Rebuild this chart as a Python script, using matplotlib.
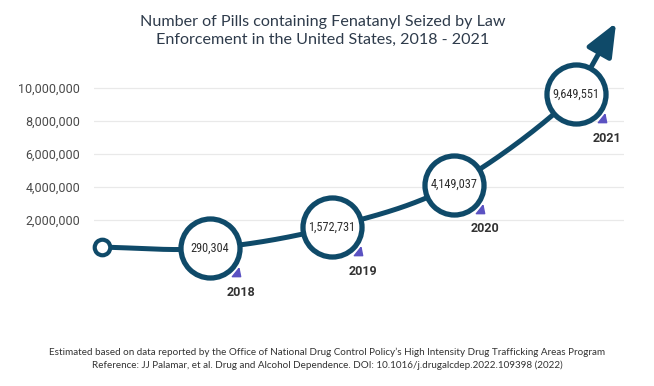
import matplotlib
matplotlib.use('Agg')
import matplotlib.pyplot as plt
import numpy as np
from matplotlib.transforms import IdentityTransform, ScaledTranslation
from matplotlib.patches import FancyArrowPatch
from matplotlib.path import Path
from matplotlib import font_manager as fm

# ---- data ----
years = [2018, 2019, 2020, 2021]
pills = [290304, 1572731, 4149037, 9649551]
value_labels = ['290,304', '1,572,731', '4,149,037', '9,649,551']
year_labels = ['2018', '2019', '2020', '2021']
yticks = [2000000, 4000000, 6000000, 8000000, 10000000]
ytick_labels = ['2,000,000', '4,000,000', '6,000,000', '8,000,000', '10,000,000']
title = ("Number of Pills containing Fenatanyl Seized by Law\n"
         "Enforcement in the United States, 2018 - 2021")
note = ("Estimated based on data reported by the Office of National Drug Control Policy\u2019s "
        "High Intensity Drug Trafficking Areas Program\n"
        "Reference: JJ Palamar, et al. Drug and Alcohol Dependence. "
        "DOI: 10.1016/j.drugalcdep.2022.109398 (2022)")

NAVY = '#0f4a69'
PURPLE = '#5b52c2'
W, H = 654, 386

# pick a condensed font if one is installed
cond_fp = None
prefs = ['Roboto Condensed', 'Liberation Sans Narrow', 'DejaVu Sans Condensed',
         'Open Sans Condensed', 'Noto Sans Condensed']
fonts = fm.fontManager.ttflist
for p in prefs:
    for f in fonts:
        n = (f.name + ' ' + f.fname.split('/')[-1]).replace('-', ' ')
        if p.replace(' ', '') in n.replace(' ', '') and 'Bold' not in f.fname \
                and 'Oblique' not in f.fname and 'Italic' not in f.fname:
            cond_fp = fm.FontProperties(fname=f.fname)
            break
    if cond_fp is not None:
        break
if cond_fp is None:
    for f in fonts:
        if f.stretch in ('condensed', 'semi-condensed', 'extra-condensed', 'ultra-condensed') \
                or (isinstance(f.stretch, (int, float)) and f.stretch < 500):
            cond_fp = fm.FontProperties(fname=f.fname)
            break

fig = plt.figure(figsize=(W / 100, H / 100), dpi=100)
fig.patch.set_facecolor('white')
ax = fig.add_axes([94 / W, 1 - 253 / H, (624 - 94) / W, (253 - 80) / H])
per_px = 2000000 / 33.0
ax.set_xlim(2017.049, 2021.393)
ax.set_ylim(0, 173 * per_px)
ax.set_autoscale_on(False)

for s in ax.spines.values():
    s.set_visible(False)
ax.set_xticks([])
ax.set_yticks(yticks)
ax.set_yticklabels(ytick_labels, fontsize=9, family='Roboto', color='#4a4a4a')
ax.tick_params(axis='y', length=0, pad=10)
ax.grid(axis='y', color='#e9e9e9', linewidth=0.9)
ax.set_axisbelow(True)

# ---- curve in display space ----
fig.canvas.draw()
pts = ax.transData.transform(np.column_stack([years, pills]))
start = pts[0] + np.array([-108.0, 1.0])
tip = pts[-1] + np.array([40.0, 71.0])
ctrl = np.vstack([start, pts, tip])


def catmull(P, n=60):
    ext = np.vstack([2 * P[0] - P[1], P, 2 * P[-1] - P[-2]])
    out = []
    for i in range(1, len(ext) - 2):
        p0, p1, p2, p3 = ext[i - 1:i + 3]
        t = np.linspace(0, 1, n)[:, None]
        seg = 0.5 * ((2 * p1) + (-p0 + p2) * t + (2 * p0 - 5 * p1 + 4 * p2 - p3) * t ** 2
                     + (-p0 + 3 * p1 - 3 * p2 + p3) * t ** 3)
        out.append(seg)
    return out


segs = catmull(ctrl)
curve = np.vstack(segs[:-1])
ax.plot(curve[:, 0], curve[:, 1], color=NAVY, lw=3.6, transform=IdentityTransform(),
        clip_on=False, zorder=3, solid_capstyle='round')

arrow = FancyArrowPatch(posA=tuple(pts[-1]), posB=tuple(tip), transform=IdentityTransform(),
                        arrowstyle='-|>,head_length=1.0,head_width=0.42',
                        mutation_scale=20, color=NAVY, lw=3.6, shrinkA=0, shrinkB=0,
                        zorder=3, clip_on=False)
ax.add_artist(arrow)

# start ring
ax.plot([start[0]], [start[1]], 'o', ms=11.2, mfc='white', mec=NAVY, mew=3.0,
        transform=IdentityTransform(), clip_on=False, zorder=4)

# purple pointer triangles
tri = Path([(0.6, 1), (-1, -1), (1, -1), (0.6, 1)])
off = ax.transData + ScaledTranslation(18.7 / 72, -17.3 / 72, fig.dpi_scale_trans)
ax.plot(years, pills, linestyle='none', marker=tri, ms=6.0, color=PURPLE,
        transform=off, clip_on=False, zorder=3.5)

# big circles
ax.plot(years, pills, linestyle='none', marker='o', ms=42.5, mfc='white', mec=NAVY,
        mew=3.8, clip_on=False, zorder=4)

for x, y, lab, yl in zip(years, pills, value_labels, year_labels):
    if cond_fp is not None:
        fp = cond_fp.copy()
        fp.set_size(8.8)
        ax.text(x, y, lab, ha='center', va='center', fontproperties=fp,
                color='#2e2e2e', zorder=5)
    else:
        ax.text(x, y, lab, ha='center', va='center', fontsize=7.0,
                family='DejaVu Sans', color='#2e2e2e', zorder=5)
    ax.annotate(yl, (x, y), xytext=(22, -32), textcoords='offset points',
                ha='center', va='center', fontsize=9, fontweight='bold',
                family='Roboto', color='#333333', annotation_clip=False)

fig.text(0.493, 1 - 31 / H, title, ha='center', va='center', fontsize=11.6,
         family='Lato', color='#2e3b4b', linespacing=1.4)
fig.text(0.5, 1 - 359 / H, note, ha='center', va='center', fontsize=7.1,
         family='Lato', color='#333333', linespacing=1.45)

fig.savefig('out.png', dpi=100, facecolor='white')
